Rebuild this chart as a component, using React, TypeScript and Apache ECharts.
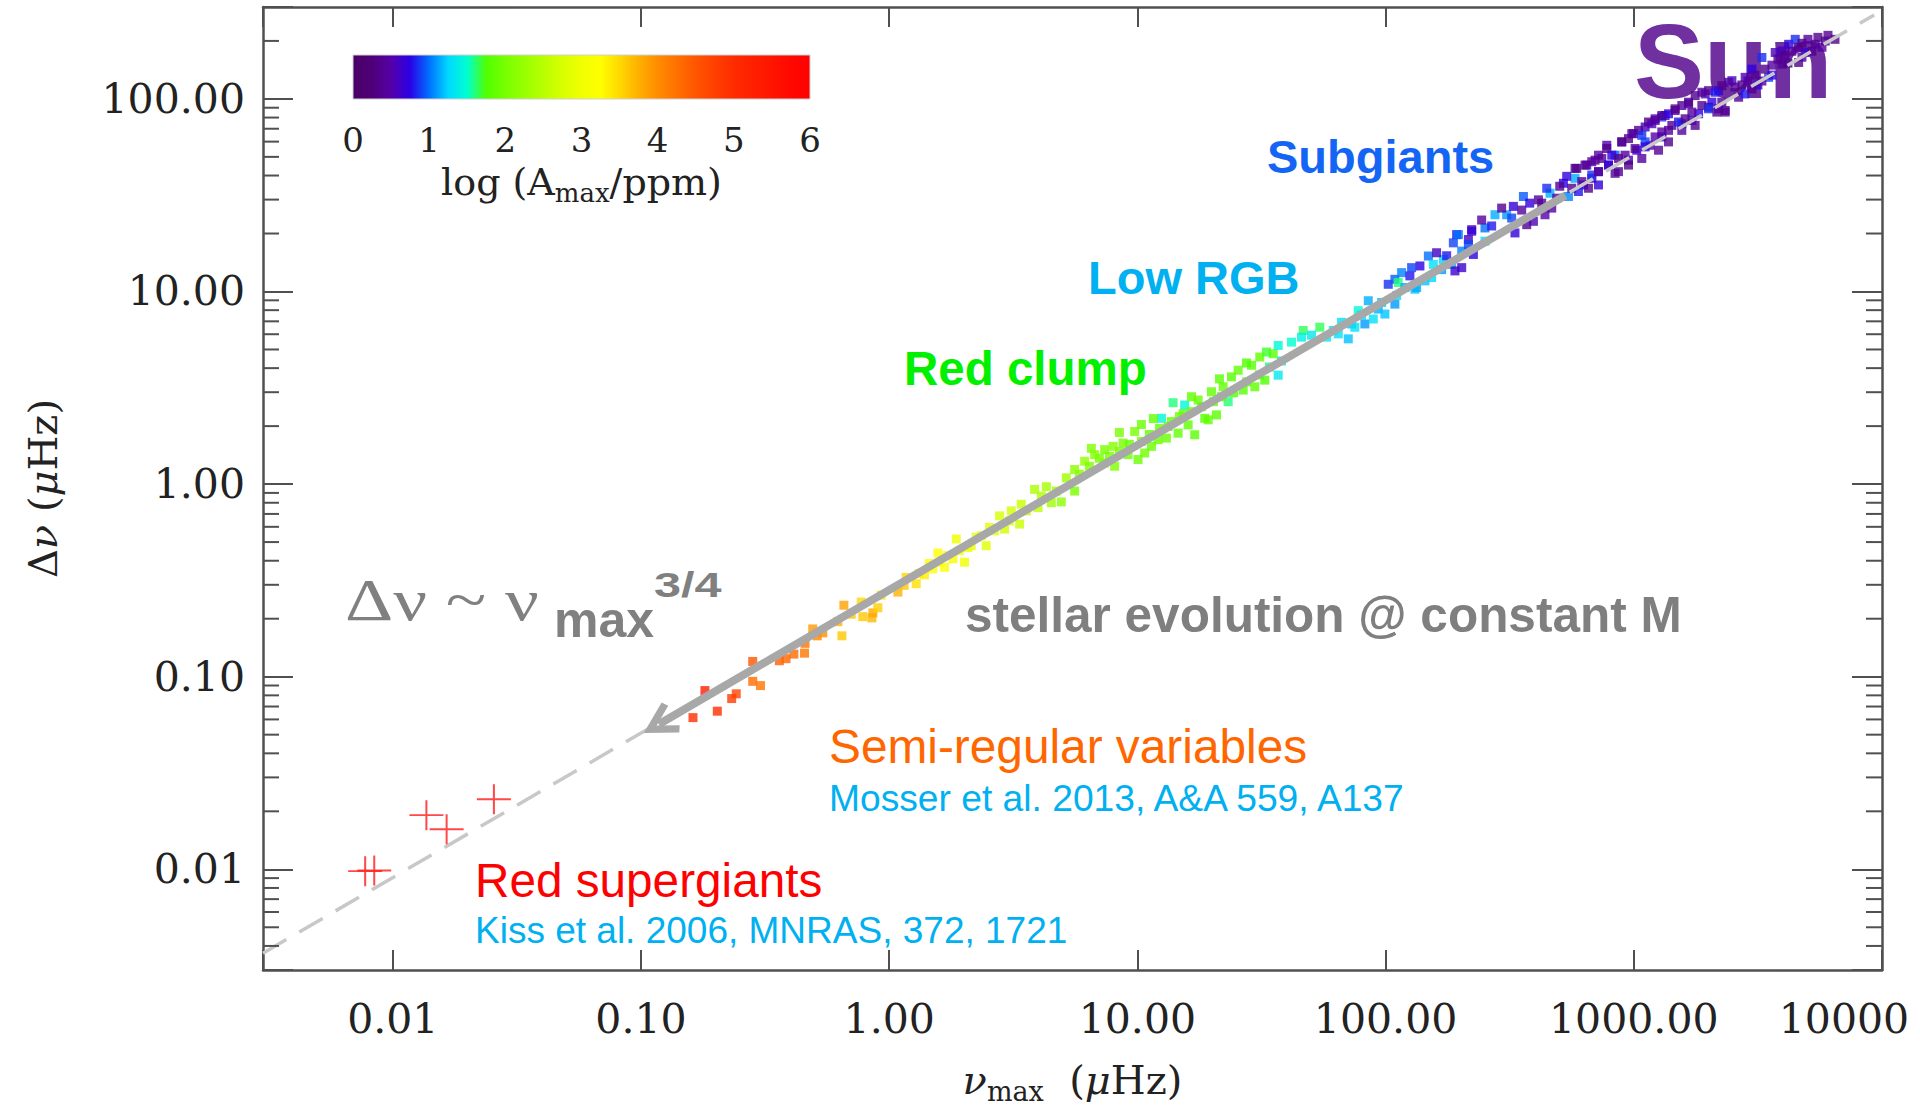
import React, { useEffect, useRef } from 'react';
import * as echarts from 'echarts';

// ---------- axis tick labels ----------
const xTickDecades = [-2, -1, 0, 1, 2, 3, 4];
const xTickLabels = ['0.01', '0.10', '1.00', '10.00', '100.00', '1000.00', '10000'];
const yTickDecades = [-2, -1, 0, 1, 2];
const yTickLabels = ['0.01', '0.10', '1.00', '10.00', '100.00'];
const minorMultipliers = [2, 3, 4, 5, 6, 7, 8, 9];
const minorDecades = [-3, -2, -1, 0, 1, 2];
const colorbarMin = 0;
const colorbarMax = 6;

// ---------- data: [nu_max (µHz), Δν (µHz), log(Amax/ppm)] ----------
const semiRegularStars: number[][] = [
  [0.162, 0.0613, 5.0], [0.181, 0.0847, 5.3], [0.203, 0.0662, 5.0], [0.232, 0.077, 4.8],
  [0.242, 0.0815, 4.7], [0.282, 0.12, 4.5], [0.282, 0.0946, 4.3], [0.303, 0.0899, 4.2],
  [0.361, 0.121, 4.4], [0.384, 0.124, 4.35], [0.413, 0.131, 4.3], [0.456, 0.1325, 4.2],
  [0.458, 0.149, 4.25], [0.492, 0.177, 3.9], [0.513, 0.163, 4.05], [0.54, 0.169, 4.0],
  [0.621, 0.193, 3.75], [0.645, 0.163, 3.6], [0.657, 0.235, 3.85], [0.703, 0.211, 3.6],
  [0.783, 0.205, 3.6], [0.852, 0.202, 3.7], [0.86, 0.2145, 3.8], [0.9, 0.228, 3.55],
  [0.928, 0.265, 3.4], [0.771, 0.244, 3.5],
];
const highRgbStars: number[][] = [
  [1.084, 0.275, 3.75], [1.285, 0.304, 3.45], [1.388, 0.338, 3.35], [1.5, 0.363, 3.25],
  [1.572, 0.439, 3.25], [1.671, 0.37, 3.2], [1.807, 0.409, 3.15], [1.863, 0.519, 3.0],
  [2.012, 0.393, 3.0], [2.076, 0.469, 2.95], [2.243, 0.529, 2.9], [2.461, 0.479, 2.85],
  [2.537, 0.595, 2.85], [2.785, 0.684, 2.75], [2.917, 0.584, 2.7], [3.104, 0.726, 2.7],
  [3.353, 0.62, 2.65], [3.406, 0.786, 2.65], [3.853, 0.939, 2.4], [3.977, 0.755, 2.55],
  [4.297, 0.969, 2.35], [4.5, 0.801, 2.3], [4.937, 0.808, 2.15], [5.172, 1.078, 2.3],
  [5.587, 1.191, 2.15], [5.587, 0.92, 2.0], [1.595, 0.393, 3.2], [1.149, 0.298, 3.6],
  [1.171, 0.3277, 3.5], [1.321, 0.3436, 3.35], [1.45, 0.387, 3.25], [1.714, 0.4256, 3.2],
  [1.916, 0.4515, 3.05], [2.141, 0.479, 2.95], [2.35, 0.5395, 2.9], [2.651, 0.5724, 2.8],
  [3.048, 0.6446, 2.7], [3.568, 0.726, 2.6], [4.101, 0.8675, 2.45], [4.714, 0.92, 2.3],
];
const clumpStars: number[][] = [
  [6.131, 1.314, 2.2], [6.726, 1.422, 2.1], [7.38, 1.51, 2.0], [7.98, 1.57, 2.1],
  [8.1, 1.238, 2.05], [8.757, 1.633, 2.0], [9.752, 1.876, 2.0], [10.06, 1.341, 1.9],
  [10.7, 1.45, 1.95], [11.39, 1.57, 1.9], [12.5, 2.196, 1.45], [13.09, 1.733, 1.9],
  [13.93, 2.646, 1.6], [14.59, 1.838, 1.85], [15.29, 2.33, 1.9], [15.51, 2.575, 1.45],
  [16.01, 2.031, 1.85], [17.02, 1.804, 1.8], [17.57, 2.733, 1.9], [18.68, 2.196, 1.8],
  [19.28, 2.156, 1.85], [19.88, 3.016, 1.85], [20.83, 2.287, 1.8], [22.16, 3.2, 1.85],
  [23.21, 2.678, 1.6], [23.93, 3.603, 1.8], [25.47, 3.901, 1.85], [26.68, 3.077, 1.8],
  [28.82, 4.14, 1.8], [29.72, 3.2, 1.85], [31.12, 4.568, 1.85], [32.6, 3.465, 1.75],
  [35.25, 4.752, 1.8], [36.92, 5.249, 1.45], [36.92, 3.677, 1.35], [7.36, 1.288, 2.0],
  [9.173, 1.422, 1.95], [13.3, 1.991, 1.9], [12.12, 1.699, 1.9],
];
const clumpStarsDense: number[][] = [
  [5.836, 1.126, 2.1], [6.405, 1.238, 2.05], [7.027, 1.361, 2.0], [7.711, 1.394, 1.95],
  [8.461, 1.48, 2.0], [9.284, 1.608, 1.9], [10.38, 1.666, 1.95], [11.18, 1.81, 1.85],
  [12.27, 1.944, 1.9], [13.71, 2.112, 1.85], [14.77, 2.241, 1.9], [16.51, 2.378, 1.85],
  [18.12, 2.524, 1.8], [20.25, 2.678, 1.85], [21.81, 2.842, 1.8], [24.38, 2.98, 1.75],
  [27.51, 3.395, 1.8], [31.04, 3.69, 1.75], [34.06, 4.057, 1.6], [38.07, 4.357, 1.4],
  [6.524, 1.533, 2.05], [8.461, 1.854, 2.0], [10.38, 2.038, 1.9], [11.6, 2.189, 1.85],
  [16.51, 2.842, 1.85], [21.41, 3.519, 1.8], [27.51, 4.256, 1.75], [33.13, 4.849, 1.7],
];
const lowRgbStars: number[][] = [
  [46.56, 6.272, 1.65], [54.33, 6.523, 1.65], [57.82, 5.793, 1.35], [64.46, 6.025, 1.3],
  [70.73, 5.677, 1.2], [72.93, 6.783, 1.2], [77.61, 7.952, 1.45], [82.51, 6.783, 1.1],
  [85.15, 8.955, 1.15], [93.45, 8.105, 1.15], [99.36, 7.638, 1.2], [102.5, 10.9, 0.85],
  [109.0, 11.57, 0.95], [112.5, 11.13, 1.6], [109.0, 8.599, 1.1], [116.0, 12.53, 1.05],
  [119.6, 10.49, 1.15], [125.3, 12.05, 0.8], [131.3, 10.28, 1.2], [137.5, 13.57, 0.75],
  [144.1, 11.36, 1.2], [148.7, 15.28, 1.0], [155.7, 13.83, 1.3], [170.9, 14.67, 1.25],
  [184.5, 13.83, 1.15], [187.5, 17.89, 0.9], [193.3, 19.74, 0.8], [202.6, 16.21, 1.05],
  [202.6, 13.3, 0.65], [215.6, 18.61, 0.6], [222.3, 20.94, 0.55], [225.8, 15.57, 0.75],
  [190.3, 12.79, 0.65], [75.2, 6.523, 1.3], [61.52, 6.272, 1.35], [89.2, 7.197, 1.3],
  [41.78, 5.459, 1.5], [45.85, 5.793, 1.4], [50.3, 5.932, 1.35], [66.46, 6.922, 1.3],
  [80.04, 7.522, 1.25], [96.36, 8.776, 1.2], [110.8, 9.537, 1.3], [133.4, 10.49, 1.15],
  [153.3, 11.81, 1.25], [168.2, 12.99, 1.1], [176.2, 15.33, 0.8], [160.5, 15.89, 0.6],
  [127.3, 13.3, 0.9],
];
const subgiantStars: number[][] = [
  [196.4, 19.74, 1.0], [222.3, 20.56, 0.7], [251.4, 21.38, 1.0], [275.9, 25.03, 1.15],
  [307.5, 25.03, 1.1], [327.2, 27.66, 0.7], [332.1, 20.14, 0.7], [359.2, 31.13, 0.95],
  [370.4, 22.23, 0.4], [394.1, 23.14, 0.55], [412.8, 29.91, 0.4], [459.7, 32.38, 1.15],
  [467.0, 27.1, 0.45], [520.6, 36.47, 0.75], [545.4, 31.13, 1.05], [579.9, 38.69, 1.15],
  [589.1, 43.58, 0.4], [626.9, 35.74, 0.7], [646.4, 45.32, 0.5], [677.1, 38.69, 0.6],
  [698.2, 48.08, 0.4], [720.6, 41.9, 0.7], [778.2, 57.44, 0.55], [790.7, 45.32, 0.45],
  [840.5, 51.02, 0.95], [867.4, 41.9, 0.4], [894.3, 59.8, 0.4], [951.9, 48.08, 0.55],
  [997.2, 66.0, 0.5], [1028, 54.14, 0.7], [1111, 71.47, 0.6], [1163, 57.44, 0.5],
  [1219, 77.29, 0.4], [1297, 63.47, 0.7], [1337, 82.03, 0.6], [251.4, 18.25, 1.25],
  [215.6, 17.53, 0.9], [438.8, 25.03, 0.5], [720.6, 51.02, 0.5], [598.4, 33.04, 0.8],
  [243.8, 23.5, 0.45], [267.5, 21.89, 0.8], [293.5, 27.1, 0.4], [322.1, 24.06, 0.9],
  [353.5, 26.47, 0.45], [380.7, 28.76, 0.7], [425.6, 28.76, 0.4], [445.9, 34.36, 0.85],
  [489.2, 30.51, 0.45], [503.0, 35.19, 0.4], [536.7, 39.62, 0.7], [562.3, 34.36, 0.4],
];
const subgiantStarsDense: number[][] = [
  [579.9, 43.58, 0.35], [636.2, 45.32, 0.4], [677.1, 47.17, 0.45], [743.0, 49.06, 0.4],
  [778.2, 55.24, 0.35], [815.3, 51.02, 0.7], [894.3, 59.8, 0.4], [951.9, 62.2, 0.35],
  [981.5, 66.0, 0.45], [1045, 68.64, 0.4], [1077, 64.69, 0.85], [1146, 75.84, 0.35],
  [617.0, 37.21, 0.45], [677.1, 40.23, 0.85], [720.6, 41.9, 0.4], [790.7, 45.32, 0.7],
  [867.4, 49.06, 0.35], [922.4, 51.02, 0.45], [1012, 55.24, 0.4], [1111, 59.8, 0.9],
  [656.6, 34.36, 0.4], [720.6, 35.74, 0.7], [840.5, 41.06, 0.4], [951.9, 45.32, 0.35],
  [1077, 49.06, 0.45],
];
const dwarfStars: number[][] = [
  [1111, 56.36, 0.7], [1182, 74.31, 0.55], [1297, 80.5, 0.85], [1380, 68.64, 0.45],
  [1467, 87.04, 0.5], [1561, 74.31, 0.85], [1662, 94.24, 0.4], [1824, 83.7, 0.75],
  [1939, 106.1, 0.55], [2001, 90.62, 0.4], [2195, 110.4, 0.7], [2334, 87.04, 0.35],
  [2485, 124.3, 0.6], [2644, 102.0, 0.4], [2810, 129.4, 0.55], [2991, 142.7, 0.75],
  [3282, 164.0, 0.85], [3492, 129.4, 0.9], [3714, 174.1, 0.55], [3953, 151.5, 0.4],
  [4206, 192.1, 0.7], [4472, 203.8, 0.85], [4615, 154.6, 0.35], [4906, 174.1, 0.7],
  [5383, 192.1, 0.4], [5905, 199.7, 0.35], [3953, 177.4, 0.6], [2161, 85.39, 0.35],
  [1219, 63.47, 0.5], [1714, 77.29, 0.6],
];
const dwarfStarsDense: number[][] = [
  [1219, 78.86, 0.45], [1297, 82.03, 0.4], [1380, 83.7, 0.7], [1467, 88.82, 0.35],
  [1561, 92.37, 0.45], [1662, 96.16, 0.4], [1767, 104.0, 0.35], [1880, 108.3, 0.45],
  [2001, 110.4, 0.4], [2127, 108.3, 0.8], [2263, 117.1, 0.35], [2409, 121.9, 0.45],
  [1297, 67.36, 0.45], [1423, 72.85, 0.4], [1514, 75.84, 0.8], [1610, 78.86, 0.35],
  [1714, 85.39, 0.45], [1880, 92.37, 0.4], [2063, 96.16, 0.7], [2195, 88.82, 0.45],
  [2334, 85.39, 0.4], [1258, 54.14, 0.4], [1380, 59.8, 0.35], [1561, 68.64, 0.45],
  [1767, 72.85, 0.4], [2001, 88.82, 0.85], [2263, 96.16, 0.4],
  [2555, 115.3, 0.4], [2726, 118.1, 0.35], [2882, 123.8, 0.45], [3075, 132.9, 0.4],
  [3162, 118.1, 0.7], [3375, 142.7, 0.35], [3602, 149.7, 0.45], [3807, 160.8, 0.4],
  [4064, 168.6, 0.35], [4337, 176.8, 0.45], [4585, 185.4, 0.4], [4758, 194.4, 0.35],
  [5030, 203.8, 0.45], [5220, 176.8, 0.4], [5519, 208.7, 0.35], [5729, 185.4, 0.45],
  [6058, 213.8, 0.4], [6465, 203.8, 0.35], [2803, 106.1, 0.8], [2991, 112.6, 0.4],
  [3282, 123.8, 0.45], [3602, 132.9, 0.7], [4178, 153.3, 0.4], [4758, 164.6, 0.45],
];
const redSupergiantNu = [0.00774, 0.00842, 0.01366, 0.01648, 0.02555];
const redSupergiantDnu = [0.00978, 0.00985, 0.0191, 0.01613, 0.02311];

// fitted scaling relation Δν ~ ν_max^0.75 (end points)
const fitLineNu = [0.003, 9300];
const fitLineDnu = [0.00367, 273];
// evolution arrow (start, end)
const arrowFrom = [530, 31.5];
const arrowTo = [0.118, 0.0566];

// colour table for log(Amax/ppm) from 0 to 6, every 0.25
const ampColors = [
  '#4a0066', '#4f0078', '#5500a8', '#2a00e6', '#0070ff', '#00d8ff', '#00ffd0', '#50ff00',
  '#78ff00', '#98ff00', '#b8ff00', '#d8ff00', '#f0ff00', '#ffff00', '#ffd800', '#ffb000',
  '#ff8c00', '#ff7000', '#ff5500', '#ff4000', '#ff2c00', '#ff2000', '#ff1500', '#ff0800',
  '#ff0000',
];

const frameColor = '#505050';
const tickTextColor = '#222222';
const serif = 'DejaVu Serif';
const sans = 'Liberation Sans, Arial, sans-serif';

const plusPath = 'path://M0,15H34V17H0Z M16,0H18V32H16Z';
const chevronPath = 'path://M17.5,0L35,31L28.8,35L17.5,15L6.2,35L0,31Z';

function decadeFormatter(decades: number[], labels: string[], lastRich?: boolean) {
  return (v: number) => {
    const l = Math.log10(v);
    const r = Math.round(l);
    if (Math.abs(l - r) > 1e-6) return '';
    const i = decades.indexOf(r);
    if (i < 0) return '';
    if (lastRich && i === decades.length - 1) return '{last|' + labels[i] + '}';
    return labels[i];
  };
}

function buildOption(): any {
  const allStars = [
    ...semiRegularStars, ...highRgbStars, ...clumpStars, ...clumpStarsDense, ...lowRgbStars,
    ...subgiantStars, ...subgiantStarsDense, ...dwarfStars, ...dwarfStarsDense,
  ];
  const yMinorTicks: number[][] = [];
  minorDecades.forEach((d) => {
    minorMultipliers.forEach((m) => {
      const v = m * Math.pow(10, d);
      if (v >= 0.003 && v <= 300) yMinorTicks.push([1, v]);
    });
  });
  const gradientStops = ampColors.map((c, i) => ({ offset: i / (ampColors.length - 1), color: c }));

  const labelStyle = { color: tickTextColor, fontFamily: serif, fontSize: 41 };
  const axisLineStyle = { color: frameColor, width: 2.5 };

  return {
    animation: false,
    backgroundColor: '#ffffff',
    grid: [
      { left: 263, top: 7, width: 1619, height: 971 },
      { left: 353, top: 55, width: 457, height: 44 },
    ],
    visualMap: {
      type: 'continuous',
      show: false,
      dimension: 2,
      seriesIndex: 0,
      min: colorbarMin,
      max: colorbarMax,
      inRange: { color: ampColors },
    },
    xAxis: [
      {
        type: 'log', logBase: 10, gridIndex: 0, position: 'bottom', min: 0.003, max: 10000,
        axisLine: { show: true, onZero: false, lineStyle: axisLineStyle },
        axisTick: { show: true, inside: true, length: 20, lineStyle: { color: frameColor, width: 2 } },
        axisLabel: {
          ...labelStyle, margin: 28,
          formatter: decadeFormatter(xTickDecades, xTickLabels, true),
          rich: { last: { ...labelStyle, padding: [0, 76, 0, 0] } },
        },
        splitLine: { show: false },
        name: '{nu|ν}{sub|max}  ({mu|μ}Hz)',
        nameLocation: 'middle',
        nameGap: 85,
        nameTextStyle: {
          fontFamily: serif, fontSize: 40, color: tickTextColor, lineHeight: 50,
          rich: {
            nu: { fontFamily: serif, fontStyle: 'italic', fontSize: 40, lineHeight: 50, color: tickTextColor },
            mu: { fontFamily: serif, fontStyle: 'italic', fontSize: 40, lineHeight: 50, color: tickTextColor },
            sub: { fontFamily: serif, fontSize: 27, lineHeight: 27, verticalAlign: 'bottom', color: tickTextColor },
          },
        },
      },
      {
        type: 'log', logBase: 10, gridIndex: 0, position: 'top', min: 0.003, max: 10000,
        axisLine: { show: true, onZero: false, lineStyle: axisLineStyle },
        axisTick: { show: true, inside: true, length: 20, lineStyle: { color: frameColor, width: 2 } },
        axisLabel: { show: false },
        splitLine: { show: false },
      },
      {
        type: 'value', gridIndex: 1, position: 'bottom', min: colorbarMin, max: colorbarMax, interval: 1,
        axisLine: { show: false },
        axisTick: { show: false },
        splitLine: { show: false },
        axisLabel: { color: tickTextColor, fontFamily: serif, fontSize: 34, margin: 24, formatter: (v: number) => String(Math.round(v)) },
        name: 'log (A{sub|max}/ppm)',
        nameLocation: 'middle',
        nameGap: 59,
        nameTextStyle: {
          fontFamily: serif, fontSize: 38, color: tickTextColor, lineHeight: 48,
          rich: { sub: { fontFamily: serif, fontSize: 26, lineHeight: 26, verticalAlign: 'bottom', color: tickTextColor } },
        },
      },
    ],
    yAxis: [
      {
        type: 'log', logBase: 10, gridIndex: 0, position: 'left', min: 0.003, max: 300,
        axisLine: { show: true, onZero: false, lineStyle: axisLineStyle },
        axisTick: { show: true, inside: true, length: 30, lineStyle: { color: frameColor, width: 2 } },
        axisLabel: { ...labelStyle, margin: 18, formatter: decadeFormatter(yTickDecades, yTickLabels) },
        splitLine: { show: false },
        name: 'Δ{nu|ν} ({mu|μ}Hz)',
        nameLocation: 'middle',
        nameGap: 195,
        nameTextStyle: {
          fontFamily: serif, fontSize: 40, color: tickTextColor, lineHeight: 50,
          rich: {
            nu: { fontFamily: serif, fontStyle: 'italic', fontSize: 40, lineHeight: 50, color: tickTextColor },
            mu: { fontFamily: serif, fontStyle: 'italic', fontSize: 40, lineHeight: 50, color: tickTextColor },
          },
        },
      },
      {
        type: 'log', logBase: 10, gridIndex: 0, position: 'right', min: 0.003, max: 300,
        axisLine: { show: true, onZero: false, lineStyle: axisLineStyle },
        axisTick: { show: true, inside: true, length: 30, lineStyle: { color: frameColor, width: 2 } },
        axisLabel: { show: false },
        splitLine: { show: false },
      },
      {
        type: 'value', gridIndex: 1, min: 0, max: 1, show: false,
      },
    ],
    series: [
      {
        name: 'Kepler / CoRoT red giants & dwarfs',
        type: 'scatter',
        xAxisIndex: 0, yAxisIndex: 0,
        symbol: 'rect',
        symbolSize: 9,
        data: allStars,
        z: 2,
        silent: true,
      },
      {
        name: 'Red supergiants',
        type: 'scatter',
        xAxisIndex: 0, yAxisIndex: 0,
        symbol: plusPath,
        symbolSize: [34, 30],
        itemStyle: { color: '#ff1a1a' },
        data: redSupergiantNu.map((x, i) => [x, redSupergiantDnu[i]]),
        z: 4,
        silent: true,
      },
      {
        name: 'scaling relation',
        type: 'line',
        xAxisIndex: 0, yAxisIndex: 0,
        data: fitLineNu.map((x, i) => [x, fitLineDnu[i]]),
        symbol: 'none',
        lineStyle: { color: '#c8c8c8', width: 3.5, type: [27, 15] },
        z: 3,
        silent: true,
        markLine: {
          silent: true,
          symbol: ['none', chevronPath],
          symbolSize: 35,
          label: { show: false },
          emphasis: { disabled: true },
          lineStyle: { type: 'solid', color: '#a8a8a8', width: 8 },
          data: [[{ coord: arrowFrom }, { coord: arrowTo }]],
        },
      },
      {
        name: 'minor ticks',
        type: 'custom',
        xAxisIndex: 0, yAxisIndex: 0,
        data: yMinorTicks,
        encode: { x: 0, y: 1 },
        clip: false,
        silent: true,
        z: 6,
        renderItem: (params: any, api: any) => {
          const cs = params.coordSys;
          const p = api.coord([api.value(0), api.value(1)]);
          const y = p[1];
          const st = { stroke: frameColor, lineWidth: 2 };
          return {
            type: 'group',
            children: [
              { type: 'line', shape: { x1: cs.x, y1: y, x2: cs.x + 16, y2: y }, style: st },
              { type: 'line', shape: { x1: cs.x + cs.width - 16, y1: y, x2: cs.x + cs.width, y2: y }, style: st },
            ],
          };
        },
      },
    ],
    graphic: [
      {
        type: 'rect', z: 10,
        shape: { x: 353, y: 55, width: 457, height: 44 },
        style: {
          fill: { type: 'linear', x: 0, y: 0, x2: 1, y2: 0, colorStops: gradientStops },
          stroke: '#d0d0d0', lineWidth: 1,
        },
      },
      {
        type: 'text', z: 1, x: 1634, y: 61,
        style: { text: 'Sun', fill: '#7030a0', fontFamily: sans, fontWeight: 'bold', fontSize: 105, align: 'left', verticalAlign: 'middle' },
      },
      {
        type: 'text', z: 10, x: 1267, y: 156,
        style: { text: 'Subgiants', fill: '#1565f5', fontFamily: sans, fontWeight: 'bold', fontSize: 47, align: 'left', verticalAlign: 'middle' },
      },
      {
        type: 'text', z: 10, x: 1088, y: 277,
        style: { text: 'Low RGB', fill: '#00b0f0', fontFamily: sans, fontWeight: 'bold', fontSize: 47, align: 'left', verticalAlign: 'middle' },
      },
      {
        type: 'text', z: 10, x: 904, y: 368,
        style: { text: 'Red clump', fill: '#00f000', fontFamily: sans, fontWeight: 'bold', fontSize: 47.5, align: 'left', verticalAlign: 'middle' },
      },
      {
        type: 'text', z: 10, x: 345, y: 600, scaleX: 1.27,
        style: { text: 'Δν ~ ν', fill: '#808080', fontFamily: 'Liberation Serif, serif', fontSize: 59, align: 'left', verticalAlign: 'middle' },
      },
      {
        type: 'text', z: 10, x: 554, y: 620,
        style: { text: 'max', fill: '#808080', fontFamily: sans, fontWeight: 'bold', fontSize: 50, align: 'left', verticalAlign: 'middle' },
      },
      {
        type: 'text', z: 10, x: 654, y: 584, scaleX: 1.35,
        style: { text: '3/4', fill: '#808080', fontFamily: sans, fontWeight: 'bold', fontSize: 36, align: 'left', verticalAlign: 'middle' },
      },
      {
        type: 'text', z: 10, x: 965, y: 614,
        style: { text: 'stellar evolution @ constant M', fill: '#7f7f7f', fontFamily: sans, fontWeight: 'bold', fontSize: 49.5, align: 'left', verticalAlign: 'middle' },
      },
      {
        type: 'text', z: 10, x: 829, y: 746,
        style: { text: 'Semi-regular variables', fill: '#ff6600', fontFamily: sans, fontSize: 47.8, align: 'left', verticalAlign: 'middle' },
      },
      {
        type: 'text', z: 10, x: 829, y: 798,
        style: { text: 'Mosser et al. 2013, A&A 559, A137', fill: '#00b0f0', fontFamily: sans, fontSize: 37.2, align: 'left', verticalAlign: 'middle' },
      },
      {
        type: 'text', z: 10, x: 475, y: 880,
        style: { text: 'Red supergiants', fill: '#ff0000', fontFamily: sans, fontSize: 47.7, align: 'left', verticalAlign: 'middle' },
      },
      {
        type: 'text', z: 10, x: 475, y: 930,
        style: { text: 'Kiss et al. 2006, MNRAS, 372, 1721', fill: '#00b0f0', fontFamily: sans, fontSize: 37, align: 'left', verticalAlign: 'middle' },
      },
    ],
  };
}

export default function App() {
  const ref = useRef<HTMLDivElement>(null);
  useEffect(() => {
    if (!ref.current) return;
    const chart = echarts.init(ref.current, undefined, { renderer: 'svg' });
    chart.setOption(buildOption());
    return () => {
      chart.dispose();
    };
  }, []);
  return (
    <div
      ref={ref}
      style={{ position: 'fixed', left: 0, top: 0, width: 1920, height: 1110, background: '#ffffff' }}
    />
  );
}
